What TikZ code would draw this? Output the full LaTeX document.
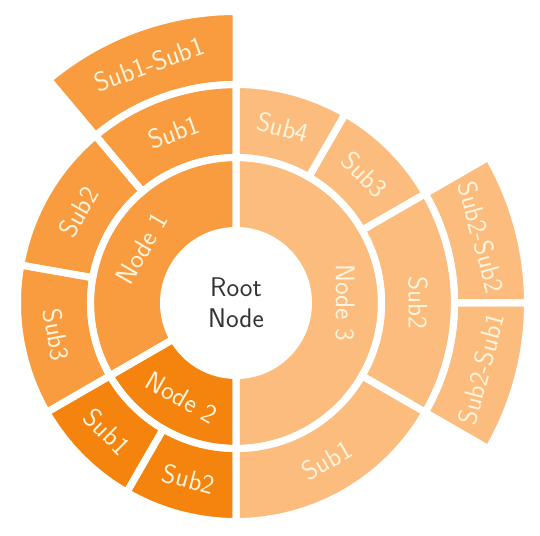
\documentclass[tikz,border=0pt]{standalone}
\usepackage{fontspec}
\definecolor{nA}{HTML}{F99C3F}
\definecolor{nB}{HTML}{F5840E}
\definecolor{nC}{HTML}{FCBC7E}
\definecolor{lbl}{HTML}{FFF4DC}
\definecolor{rootc}{HTML}{333333}
\newcommand\sectpath[4]{(#3:#1pt) arc[start angle=#3,end angle=#4,radius=#1pt] -- (#4:#2pt) arc[start angle=#4,end angle=#3,radius=#2pt] -- cycle}
\tikzset{
  wedgelbl/.style={text=lbl, font=\sffamily\fontsize{27}{32}\selectfont, inner sep=0pt},
  gapline/.style={draw=white, line width=7pt, line join=miter}
}
\begin{document}
\begin{tikzpicture}[x=1pt,y=1pt]
\useasboundingbox (0,0) rectangle (540,535);
\begin{scope}[shift={(236,232)}]
% ring 1
\fill[nA] \sectpath{72.5}{145.5}{90}{210};
\fill[nB] \sectpath{72.5}{145.5}{210}{270};
\fill[nC] \sectpath{72.5}{145.5}{-90}{90};
% ring 2
\fill[nA] \sectpath{145.5}{218.5}{90}{130};
\fill[nA] \sectpath{145.5}{218.5}{130}{170};
\fill[nA] \sectpath{145.5}{218.5}{170}{210};
\fill[nB] \sectpath{145.5}{218.5}{210}{240};
\fill[nB] \sectpath{145.5}{218.5}{240}{270};
\fill[nC] \sectpath{145.5}{218.5}{-90}{-30};
\fill[nC] \sectpath{145.5}{218.5}{-30}{30};
\fill[nC] \sectpath{145.5}{218.5}{30}{60};
\fill[nC] \sectpath{145.5}{218.5}{60}{90};
% ring 3
\fill[nA] \sectpath{218.5}{291.5}{90}{130};
\fill[nC] \sectpath{218.5}{291.5}{0}{30};
\fill[nC] \sectpath{218.5}{291.5}{-30}{0};
% white gaps
\path[gapline] \sectpath{72.5}{145.5}{90}{210};
\path[gapline] \sectpath{72.5}{145.5}{210}{270};
\path[gapline] \sectpath{72.5}{145.5}{-90}{90};
\path[gapline] \sectpath{145.5}{218.5}{90}{130};
\path[gapline] \sectpath{145.5}{218.5}{130}{170};
\path[gapline] \sectpath{145.5}{218.5}{170}{210};
\path[gapline] \sectpath{145.5}{218.5}{210}{240};
\path[gapline] \sectpath{145.5}{218.5}{240}{270};
\path[gapline] \sectpath{145.5}{218.5}{-90}{-30};
\path[gapline] \sectpath{145.5}{218.5}{-30}{30};
\path[gapline] \sectpath{145.5}{218.5}{30}{60};
\path[gapline] \sectpath{145.5}{218.5}{60}{90};
\path[gapline] \sectpath{218.5}{291.5}{90}{130};
\path[gapline] \sectpath{218.5}{291.5}{0}{30};
\path[gapline] \sectpath{218.5}{291.5}{-30}{0};
% labels
\node[text=rootc, font=\sffamily\fontsize{27}{31}\selectfont, align=center] (root) at (0,0) {Root\\Node};
\node[wedgelbl, rotate=60]  (n1) at (150:109pt) {Node 1};
\node[wedgelbl, rotate=330] (n2) at (240:109pt) {Node 2};
\node[wedgelbl, rotate=-90] (n3) at (0:109pt) {Node 3};
\node[wedgelbl, rotate=20]  (n1s1) at (110:182pt) {Sub1};
\node[wedgelbl, rotate=60]  (n1s2) at (150:182pt) {Sub2};
\node[wedgelbl, rotate=280] (n1s3) at (190:182pt) {Sub3};
\node[wedgelbl, rotate=315] (n2s1) at (225:182pt) {Sub1};
\node[wedgelbl, rotate=345] (n2s2) at (255:182pt) {Sub2};
\node[wedgelbl, rotate=30]  (n3s1) at (-60:182pt) {Sub1};
\node[wedgelbl, rotate=-90] (n3s2) at (0:182pt) {Sub2};
\node[wedgelbl, rotate=-45] (n3s3) at (45:182pt) {Sub3};
\node[wedgelbl, rotate=-15] (n3s4) at (75:182pt) {Sub4};
\node[wedgelbl, rotate=20]  (n1s1s1) at (110:254pt) {Sub1-Sub1};
\node[wedgelbl, rotate=-75] (n3s2s2) at (15:254pt) {Sub2-Sub2};
\node[wedgelbl, rotate=75]  (n3s2s1) at (-15:254pt) {Sub2-Sub1};
\end{scope}
\end{tikzpicture}
\end{document}
